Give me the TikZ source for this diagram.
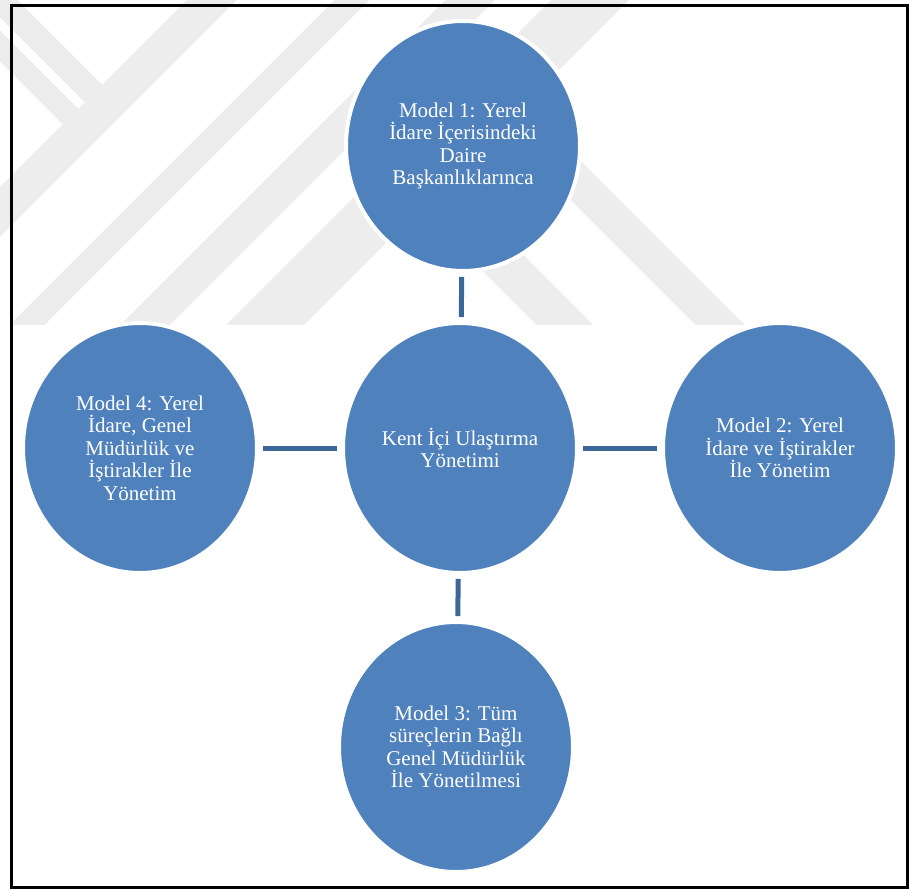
\documentclass[tikz,border=0pt]{standalone}
\usepackage{fontspec}
\setmainfont{Liberation Serif}
\usetikzlibrary{shapes.geometric}
\definecolor{bubblefill}{RGB}{79,129,189}
\definecolor{linkblue}{RGB}{62,103,153}
\definecolor{wmgray}{RGB}{237,237,237}
\begin{document}
\begin{tikzpicture}[x=1pt,y=-1pt,
  bubble/.style={ellipse, fill=bubblefill, draw=white, line width=4pt,
    minimum width=234pt, minimum height=250pt, inner sep=0pt,
    align=center, text=white, font=\fontsize{21}{22.5}\selectfont},
  link/.style={draw=linkblue, line width=5pt, shorten >=4pt, shorten <=4pt},
  band/.style={draw=wmgray, line width=#1, line cap=butt}]
\useasboundingbox (0,0) rectangle (910,890);
\fill[white] (0,0) rectangle (910,890);

% faint striped background in the upper part
\begin{scope}
  \clip (0,0) rectangle (910,325);
  \draw[band=35pt] (262,-50) -- (-188,400);
  \draw[band=25pt] (402,-50) -- (-48,400);
  \draw[band=35pt] (520,-50) -- (70,400);
  \draw[band=55pt] (640,-50) -- (190,400);
  \draw[band=25pt] (-30,-30) -- (106,106);
  \draw[band=22pt] (-20,26) -- (83,129);
  \draw[band=35pt] (492,97) -- (750,355);
  \draw[band=40pt] (415,175) -- (600,360);
\end{scope}

% outer frame
\draw[line width=3pt] (11.5,5.5) rectangle (907.5,887.5);

% nodes
\node[bubble] (m1) at (463,146) {Model 1: Yerel\\İdare İçerisindeki\\Daire\\Başkanlıklarınca};
\node[bubble] (c)  at (460,448) {Kent İçi Ulaştırma\\Yönetimi};
\node[bubble] (m2) at (780,448) {Model 2: Yerel\\İdare ve İştirakler\\İle Yönetim};
\node[bubble] (m3) at (456,747) {Model 3: Tüm\\süreçlerin Bağlı\\Genel Müdürlük\\İle Yönetilmesi};
\node[bubble] (m4) at (140,448) {Model 4: Yerel\\İdare, Genel\\Müdürlük ve\\İştirakler İle\\Yönetim};

% connectors
\draw[link] (m1) -- (c);
\draw[link] (c) -- (m2);
\draw[link] (c) -- (m3);
\draw[link] (m4) -- (c);
\end{tikzpicture}
\end{document}
